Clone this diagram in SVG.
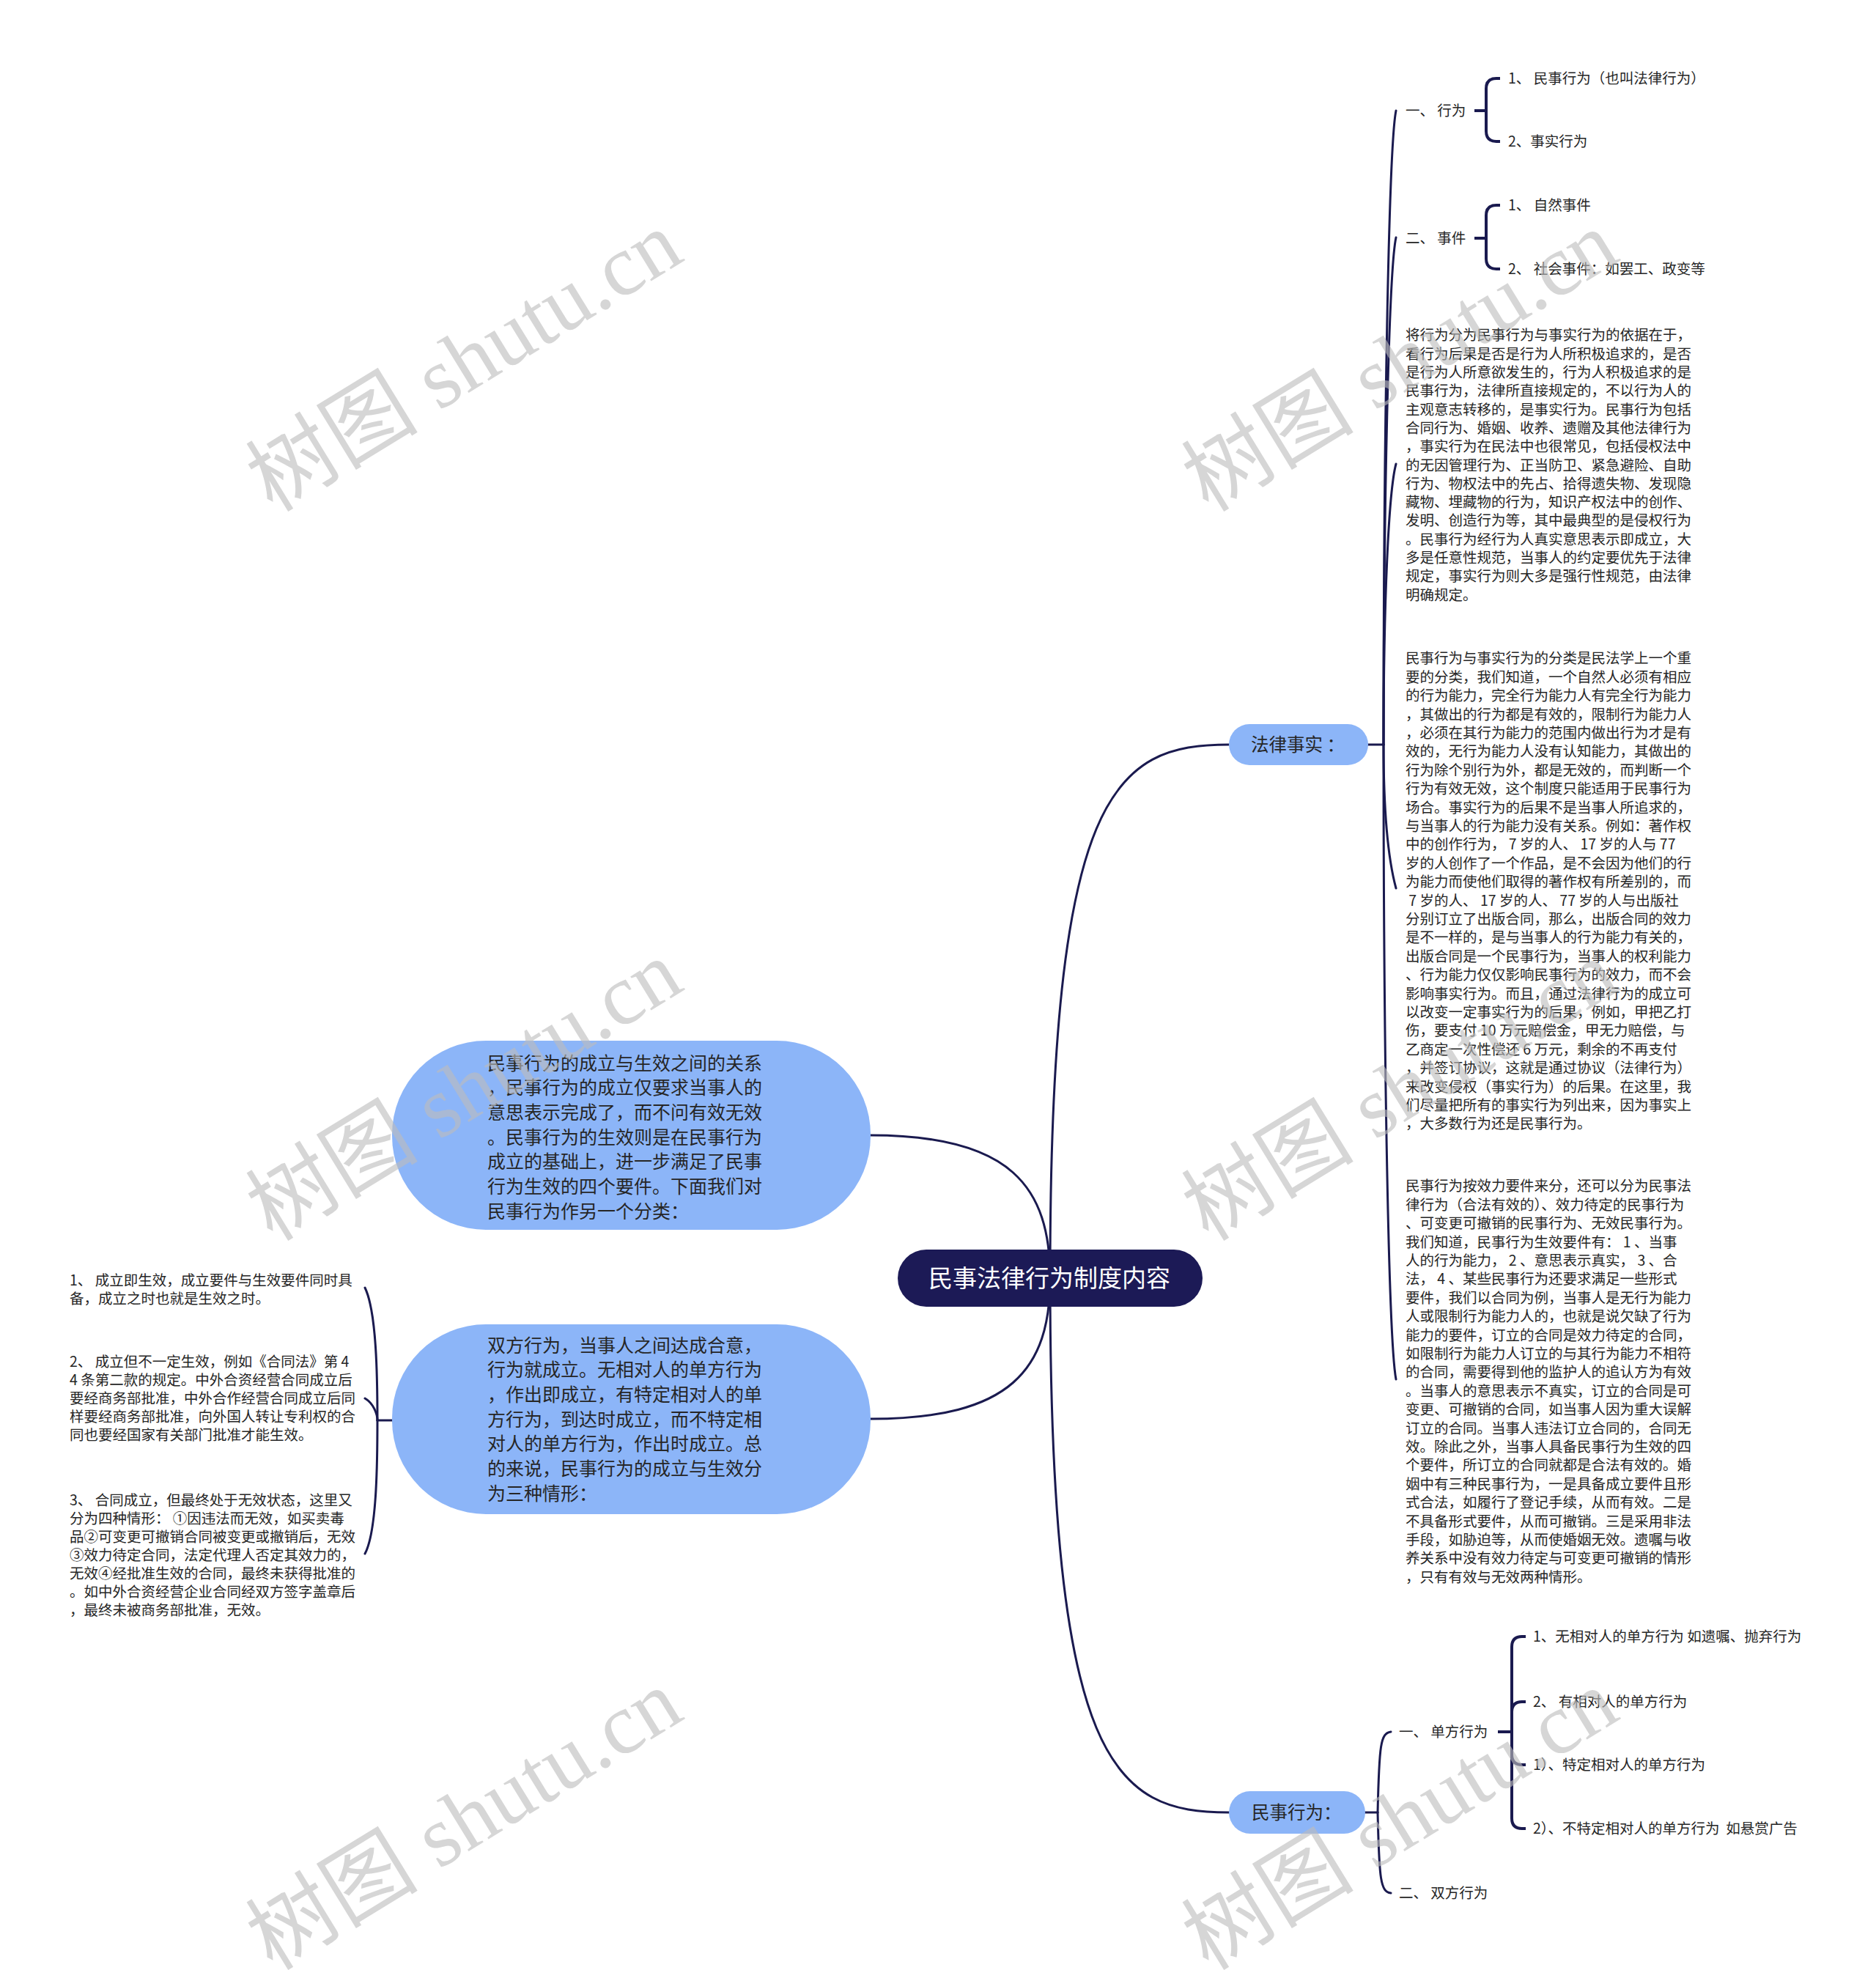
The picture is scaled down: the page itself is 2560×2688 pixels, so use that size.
<svg xmlns="http://www.w3.org/2000/svg" width="2560" height="2688" viewBox="0 0 2560 2688">
<style>
text{font-family:"Noto Sans CJK SC","Liberation Sans",sans-serif;fill:#262626;white-space:pre}
.s{font-size:19.5px}
.m{font-size:25px}
.b{font-size:24.5px}
.root{font-size:33px;fill:#ffffff}
.ln{fill:none;stroke:#1a1a4f;stroke-width:3;stroke-linecap:round}
.br{fill:none;stroke:#1a1a4f;stroke-width:4;stroke-linecap:butt}
.blue{fill:#8cb5f8}
.wm{font-family:"Liberation Serif","Noto Sans CJK SC",serif;font-size:118px;fill:#bdbdbd;opacity:0.62}
</style>
<rect x="0" y="0" width="2560" height="2688" fill="#ffffff"/>
<g id="connectors">
<path class="ln" d="M1433,1744 C1433,1080 1520,1016 1677,1016"/>
<path class="ln" d="M1433,1744 C1433,2408 1520,2473 1677,2473"/>
<path class="ln" d="M1433,1744 C1433,1620 1380,1549 1188,1549"/>
<path class="ln" d="M1433,1744 C1433,1868 1380,1936 1188,1936"/>
<path class="ln" d="M1866,1016 L1888,1016"/>
<path class="ln" d="M1888,1016 C1888,600 1895,200 1905,151"/>
<path class="ln" d="M1888,1016 C1888,700 1895,370 1905,324"/>
<path class="ln" d="M1888,1016 C1888,820 1895,670 1905,633"/>
<path class="ln" d="M1888,1016 C1888,1110 1895,1175 1905,1212"/>
<path class="ln" d="M1888,1016 C1888,1450 1895,1830 1905,1882"/>
<path class="br" d="M2012,151 L2028,151 M2028,151 L2028,121 Q2028,107 2042,107 L2047,107 M2028,151 L2028,179 Q2028,193 2042,193 L2047,193"/>
<path class="br" d="M2012,325 L2028,325 M2028,325 L2028,294 Q2028,280 2042,280 L2047,280 M2028,325 L2028,353 Q2028,367 2042,367 L2047,367"/>
<path class="ln" d="M1862,2473 L1880,2473"/>
<path class="ln" d="M1880,2473 C1882,2380 1884,2365 1898,2363"/>
<path class="ln" d="M1880,2473 C1882,2566 1884,2581 1898,2583"/>
<path class="br" d="M2044,2363 L2063,2363 M2063,2363 L2063,2247 Q2063,2233 2077,2233 L2082,2233 M2063,2363 L2063,2336 Q2063,2322 2077,2322 L2082,2322 M2063,2363 L2063,2394 Q2063,2408 2077,2408 L2082,2408 M2063,2363 L2063,2481 Q2063,2495 2077,2495 L2082,2495"/>
<path class="ln" d="M535,1938 L515,1938"/>
<path class="ln" d="M515,1938 C515,1880 514,1790 498,1757"/>
<path class="ln" d="M515,1938 C515,1930 510,1915 498,1908"/>
<path class="ln" d="M515,1938 C515,2000 514,2090 498,2120"/>
</g>
<g id="root">
<rect x="1225" y="1705" width="416" height="78" rx="39" fill="#1c1a56"/>
<text class="root" x="1267" y="1756">民事法律行为制度内容</text>
</g>
<g id="node-falvshishi">
<rect class="blue" x="1677" y="988" width="190" height="56" rx="28"/>
<text class="b" x="1707" y="1025">法律事实 ：</text>
</g>
<g id="node-minshixingwei">
<rect class="blue" x="1677" y="2444" width="186" height="58" rx="29"/>
<text class="b" x="1708" y="2482">民事行为：</text>
</g>
<g id="node-left1">
<rect class="blue" x="535" y="1420" width="653" height="258" rx="128"/>
<text class="m">
<tspan x="665" y="1459.5">民事行为的成立与生效之间的关系</tspan>
<tspan x="665" y="1493.2">，民事行为的成立仅要求当事人的</tspan>
<tspan x="665" y="1526.9">意思表示完成了，而不问有效无效</tspan>
<tspan x="665" y="1560.6">。民事行为的生效则是在民事行为</tspan>
<tspan x="665" y="1594.3">成立的基础上，进一步满足了民事</tspan>
<tspan x="665" y="1628">行为生效的四个要件。下面我们对</tspan>
<tspan x="665" y="1661.7">民事行为作另一个分类：</tspan>
</text>
</g>
<g id="node-left2">
<rect class="blue" x="535" y="1807" width="653" height="259" rx="128"/>
<text class="m">
<tspan x="665" y="1844.5">双方行为，当事人之间达成合意，</tspan>
<tspan x="665" y="1878.2">行为就成立。无相对人的单方行为</tspan>
<tspan x="665" y="1911.9">，作出即成立，有特定相对人的单</tspan>
<tspan x="665" y="1945.6">方行为，到达时成立，而不特定相</tspan>
<tspan x="665" y="1979.3">对人的单方行为，作出时成立。总</tspan>
<tspan x="665" y="2013">的来说，民事行为的成立与生效分</tspan>
<tspan x="665" y="2046.7">为三种情形：</tspan>
</text>
</g>
<g id="left-item1">
<text class="s"><tspan x="95" y="1754.4">1、 成立即生效，成立要件与生效要件同时具</tspan><tspan x="95" y="1779.4">备，成立之时也就是生效之时。</tspan></text>
</g>
<g id="left-item2">
<text class="s"><tspan x="95" y="1865.4">2、 成立但不一定生效，例如《合同法》第 4</tspan><tspan x="95" y="1890.4">4 条第二款的规定。中外合资经营合同成立后</tspan><tspan x="95" y="1915.4">要经商务部批准，中外合作经营合同成立后同</tspan><tspan x="95" y="1940.4">样要经商务部批准，向外国人转让专利权的合</tspan><tspan x="95" y="1965.4">同也要经国家有关部门批准才能生效。</tspan></text>
</g>
<g id="left-item3">
<text class="s"><tspan x="95" y="2054.4">3、 合同成立，但最终处于无效状态，这里又</tspan><tspan x="95" y="2079.4">分为四种情形： ①因违法而无效，如买卖毒</tspan><tspan x="95" y="2104.4">品②可变更可撤销合同被变更或撤销后，无效</tspan><tspan x="95" y="2129.4">③效力待定合同，法定代理人否定其效力的，</tspan><tspan x="95" y="2154.4">无效④经批准生效的合同，最终未获得批准的</tspan><tspan x="95" y="2179.4">。如中外合资经营企业合同经双方签字盖章后</tspan><tspan x="95" y="2204.4">，最终未被商务部批准，无效。</tspan></text>
</g>
<g id="xingwei">
<text class="s" x="1918" y="158.4">一、 行为</text>
</g>
<g id="xingwei-1"><text class="s" x="2058" y="114.4">1、 民事行为（也叫法律行为）</text></g>
<g id="xingwei-2"><text class="s" x="2058" y="200.4">2、事实行为</text></g>
<g id="shijian">
<text class="s" x="1918" y="332.4">二、 事件</text>
</g>
<g id="shijian-1"><text class="s" x="2058" y="287.4">1、 自然事件</text></g>
<g id="shijian-2"><text class="s" x="2058" y="374.4">2、 社会事件：如罢工、政变等</text></g>
<g id="block1">
<text class="s">
<tspan x="1918" y="464.4">将行为分为民事行为与事实行为的依据在于，</tspan>
<tspan x="1918" y="489.7">看行为后果是否是行为人所积极追求的，是否</tspan>
<tspan x="1918" y="515">是行为人所意欲发生的，行为人积极追求的是</tspan>
<tspan x="1918" y="540.3">民事行为，法律所直接规定的，不以行为人的</tspan>
<tspan x="1918" y="565.6">主观意志转移的，是事实行为。民事行为包括</tspan>
<tspan x="1918" y="590.9">合同行为、婚姻、收养、遗赠及其他法律行为</tspan>
<tspan x="1918" y="616.2">，事实行为在民法中也很常见，包括侵权法中</tspan>
<tspan x="1918" y="641.5">的无因管理行为、正当防卫、紧急避险、自助</tspan>
<tspan x="1918" y="666.8">行为、物权法中的先占、拾得遗失物、发现隐</tspan>
<tspan x="1918" y="692.1">藏物、埋藏物的行为，知识产权法中的创作、</tspan>
<tspan x="1918" y="717.4">发明、创造行为等，其中最典型的是侵权行为</tspan>
<tspan x="1918" y="742.7">。民事行为经行为人真实意思表示即成立，大</tspan>
<tspan x="1918" y="768">多是任意性规范，当事人的约定要优先于法律</tspan>
<tspan x="1918" y="793.3">规定，事实行为则大多是强行性规范，由法律</tspan>
<tspan x="1918" y="818.6">明确规定。</tspan>
</text>
</g>
<g id="block2">
<text class="s">
<tspan x="1918" y="905.4">民事行为与事实行为的分类是民法学上一个重</tspan>
<tspan x="1918" y="930.8">要的分类，我们知道，一个自然人必须有相应</tspan>
<tspan x="1918" y="956.2">的行为能力，完全行为能力人有完全行为能力</tspan>
<tspan x="1918" y="981.6">，其做出的行为都是有效的，限制行为能力人</tspan>
<tspan x="1918" y="1007">，必须在其行为能力的范围内做出行为才是有</tspan>
<tspan x="1918" y="1032.4">效的，无行为能力人没有认知能力，其做出的</tspan>
<tspan x="1918" y="1057.8">行为除个别行为外，都是无效的，而判断一个</tspan>
<tspan x="1918" y="1083.2">行为有效无效，这个制度只能适用于民事行为</tspan>
<tspan x="1918" y="1108.6">场合。事实行为的后果不是当事人所追求的，</tspan>
<tspan x="1918" y="1134">与当事人的行为能力没有关系。例如：著作权</tspan>
<tspan x="1918" y="1159.4">中的创作行为， 7 岁的人、 17 岁的人与 77</tspan>
<tspan x="1918" y="1184.8">岁的人创作了一个作品，是不会因为他们的行</tspan>
<tspan x="1918" y="1210.2">为能力而使他们取得的著作权有所差别的，而</tspan>
<tspan x="1918" y="1235.6"> 7 岁的人、 17 岁的人、 77 岁的人与出版社</tspan>
<tspan x="1918" y="1261">分别订立了出版合同，那么，出版合同的效力</tspan>
<tspan x="1918" y="1286.4">是不一样的，是与当事人的行为能力有关的，</tspan>
<tspan x="1918" y="1311.8">出版合同是一个民事行为，当事人的权利能力</tspan>
<tspan x="1918" y="1337.2">、行为能力仅仅影响民事行为的效力，而不会</tspan>
<tspan x="1918" y="1362.6">影响事实行为。而且，通过法律行为的成立可</tspan>
<tspan x="1918" y="1388">以改变一定事实行为的后果，例如，甲把乙打</tspan>
<tspan x="1918" y="1413.4">伤，要支付 10 万元赔偿金，甲无力赔偿，与</tspan>
<tspan x="1918" y="1438.8">乙商定一次性偿还 6 万元，剩余的不再支付</tspan>
<tspan x="1918" y="1464.2">，并签订协议，这就是通过协议（法律行为）</tspan>
<tspan x="1918" y="1489.6">来改变侵权（事实行为）的后果。在这里，我</tspan>
<tspan x="1918" y="1515">们尽量把所有的事实行为列出来，因为事实上</tspan>
<tspan x="1918" y="1540.4">，大多数行为还是民事行为。</tspan>
</text>
</g>
<g id="block3">
<text class="s">
<tspan x="1918" y="1625.4">民事行为按效力要件来分，还可以分为民事法</tspan>
<tspan x="1918" y="1650.8">律行为（合法有效的）、效力待定的民事行为</tspan>
<tspan x="1918" y="1676.2">、可变更可撤销的民事行为、无效民事行为。</tspan>
<tspan x="1918" y="1701.6">我们知道，民事行为生效要件有： 1 、当事</tspan>
<tspan x="1918" y="1727">人的行为能力， 2 、意思表示真实， 3 、合</tspan>
<tspan x="1918" y="1752.4">法， 4 、某些民事行为还要求满足一些形式</tspan>
<tspan x="1918" y="1777.8">要件，我们以合同为例，当事人是无行为能力</tspan>
<tspan x="1918" y="1803.2">人或限制行为能力人的，也就是说欠缺了行为</tspan>
<tspan x="1918" y="1828.6">能力的要件，订立的合同是效力待定的合同，</tspan>
<tspan x="1918" y="1854">如限制行为能力人订立的与其行为能力不相符</tspan>
<tspan x="1918" y="1879.4">的合同，需要得到他的监护人的追认方为有效</tspan>
<tspan x="1918" y="1904.8">。当事人的意思表示不真实，订立的合同是可</tspan>
<tspan x="1918" y="1930.2">变更、可撤销的合同，如当事人因为重大误解</tspan>
<tspan x="1918" y="1955.6">订立的合同。当事人违法订立合同的，合同无</tspan>
<tspan x="1918" y="1981">效。除此之外，当事人具备民事行为生效的四</tspan>
<tspan x="1918" y="2006.4">个要件，所订立的合同就都是合法有效的。婚</tspan>
<tspan x="1918" y="2031.8">姻中有三种民事行为，一是具备成立要件且形</tspan>
<tspan x="1918" y="2057.2">式合法，如履行了登记手续，从而有效。二是</tspan>
<tspan x="1918" y="2082.6">不具备形式要件，从而可撤销。三是采用非法</tspan>
<tspan x="1918" y="2108">手段，如胁迫等，从而使婚姻无效。遗嘱与收</tspan>
<tspan x="1918" y="2133.4">养关系中没有效力待定与可变更可撤销的情形</tspan>
<tspan x="1918" y="2158.8">，只有有效与无效两种情形。</tspan>
</text>
</g>
<g id="danfang"><text class="s" x="1909" y="2370.4">一、 单方行为</text></g>
<g id="danfang-1"><text class="s" x="2092" y="2240.4">1、无相对人的单方行为 如遗嘱、抛弃行为</text></g>
<g id="danfang-2"><text class="s" x="2092" y="2329.4">2、 有相对人的单方行为</text></g>
<g id="danfang-3"><text class="s" x="2092" y="2415.4">1）、特定相对人的单方行为</text></g>
<g id="danfang-4"><text class="s" x="2092" y="2502.4">2）、不特定相对人的单方行为  如悬赏广告</text></g>
<g id="shuangfang"><text class="s" x="1909" y="2590.4">二、 双方行为</text></g>
<g id="watermarks">
<text class="wm" x="372" y="700" transform="rotate(-31.5 372 700)">树图 shutu.cn</text>
<text class="wm" x="1649" y="700" transform="rotate(-31.5 1649 700)">树图 shutu.cn</text>
<text class="wm" x="372" y="1695" transform="rotate(-31.5 372 1695)">树图 shutu.cn</text>
<text class="wm" x="1649" y="1695" transform="rotate(-31.5 1649 1695)">树图 shutu.cn</text>
<text class="wm" x="372" y="2690" transform="rotate(-31.5 372 2690)">树图 shutu.cn</text>
<text class="wm" x="1649" y="2690" transform="rotate(-31.5 1649 2690)">树图 shutu.cn</text>
</g>
</svg>
